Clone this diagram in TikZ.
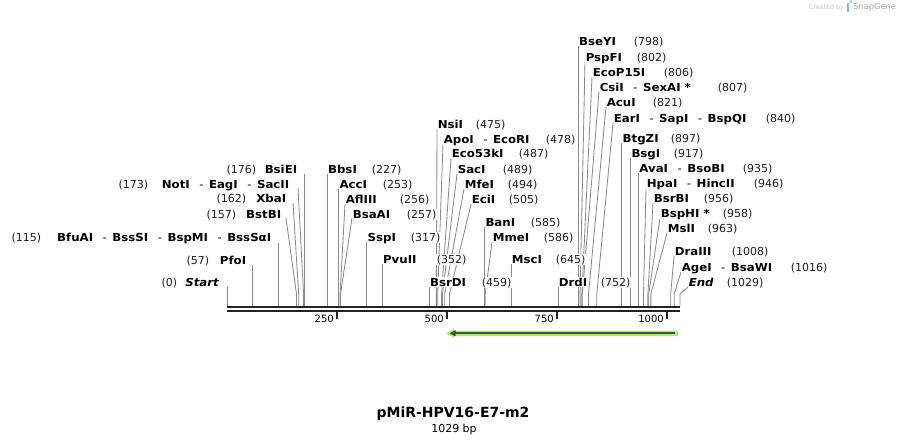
\documentclass[tikz,border=0pt]{standalone}
\usepackage{fontspec}
\setmainfont{DejaVu Sans}
\newfontfamily\enzfont[FakeStretch=1.07]{DejaVu Sans}
\pgfdeclarelayer{lines}
\pgfsetlayers{lines,main}
\definecolor{cutgray}{RGB}{138,138,138}
\definecolor{bardark}{RGB}{34,34,34}
\definecolor{halo}{RGB}{170,238,120}
\definecolor{featdark}{RGB}{62,82,52}
\definecolor{numcol}{RGB}{30,30,30}
\definecolor{logogray}{RGB}{165,165,165}
\definecolor{logolight}{RGB}{195,195,195}
\definecolor{logoblue}{RGB}{110,190,235}
\tikzset{
  cutline/.style={draw=cutgray, line width=0.85pt},
  namelab/.style={font=\fontsize{11}{13}\enzfont\bfseries, fill=white, inner sep=0.6pt, text=black},
  numlab/.style={font=\fontsize{11}{13}\selectfont, fill=white, inner sep=0.6pt, text=numcol},
  ticklab/.style={font=\fontsize{10}{12}\selectfont, inner sep=0pt, anchor=east, text=black},
  barline/.style={draw=bardark, line width=2.5pt},
  tickmark/.style={draw=bardark, line width=2pt},
}
\newcommand{\sepr}{\hspace{9.5pt}\textmd{-}\hspace{5.5pt}}
% right-side label: id, cut x, top x, top y, text centre y, name, number left x, number
\newcommand{\rsite}[8]{%
  \coordinate (#1-cut) at (#2,306);
  \coordinate (#1-knee) at (#2,294);
  \coordinate (#1-top) at (#3,#4);
  \begin{pgfonlayer}{lines}\draw[cutline] (#1-cut) -- (#1-knee) -- (#1-top);\end{pgfonlayer}
  \node[namelab, anchor=base west] (#1-name) at (#3,{#5+4}) {#6};
  \node[numlab, anchor=base west] (#1-num) at (#7,{#5+4}) {#8};
}
% left-side label: id, cut x, top x, top y, text centre y, name, name right x, number right x, number
\newcommand{\lsite}[9]{%
  \coordinate (#1-cut) at (#2,306);
  \coordinate (#1-knee) at (#2,294);
  \coordinate (#1-top) at (#3,#4);
  \begin{pgfonlayer}{lines}\draw[cutline] (#1-cut) -- (#1-knee) -- (#1-top);\end{pgfonlayer}
  \node[namelab, anchor=base east] (#1-name) at (#7,{#5+4}) {#6};
  \node[numlab, anchor=base east] (#1-num) at (#8,{#5+4}) {#9};
}
\begin{document}
\begin{tikzpicture}[x=1pt,y=-1pt]
\useasboundingbox (0,0) rectangle (908,445);

% left-side sites
\lsite{Start}{227.5}{227.5}{287}{282}{\textit{Start}}{220}{178}{(0)}
\lsite{PfoI}{252.6}{252.6}{265}{260}{PfoI}{247}{210}{(57)}
\lsite{BfuAI}{278.1}{278.1}{243}{237}{BfuAI\sepr BssSI\sepr BspMI\sepr BssSαI}{272}{42}{(115)}
\lsite{BstBI}{296.5}{286}{218}{214}{BstBI}{282}{237}{(157)}
\lsite{XbaI}{298.7}{293}{203}{198}{XbaI}{287}{247}{(162)}
\lsite{NotI}{303.6}{298}{188}{184}{NotI\sepr EagI\sepr SacII}{290}{149}{(173)}
\lsite{BsiEI}{304.9}{304.9}{174}{169}{BsiEI}{298}{257}{(176)}

% right-side sites
\rsite{BbsI}{327.3}{327.3}{174}{169}{BbsI}{371}{(227)}
\rsite{AccI}{338.7}{338.7}{189}{184}{AccI}{382}{(253)}
\rsite{AflIII}{340.1}{345}{204}{199}{AflIII}{399}{(256)}
\rsite{BsaAI}{340.5}{352}{218}{214}{BsaAI}{406}{(257)}
\rsite{SspI}{366.9}{366.9}{242}{237}{SspI}{410}{(317)}
\rsite{PvuII}{382.3}{382.3}{264}{259}{PvuII}{436}{(352)}
\rsite{BsrDI}{429.3}{429.3}{287}{282}{BsrDI}{481}{(459)}
\rsite{NsiI}{436.4}{437}{129}{124}{NsiI}{475}{(475)}
\rsite{ApoI}{437.7}{443}{144}{139}{ApoI\sepr EcoRI}{545}{(478)}
\rsite{EcoFTkI}{441.6}{451}{158}{153}{Eco53kI}{518}{(487)}
\rsite{SacI}{442.5}{457}{174}{169}{SacI}{502}{(489)}
\rsite{MfeI}{444.7}{464}{189}{184}{MfeI}{507}{(494)}
\rsite{EciI}{449.5}{471}{204}{199}{EciI}{508}{(505)}
\rsite{BanI}{484.7}{484.7}{227}{222}{BanI}{530}{(585)}
\rsite{MmeI}{485.2}{492}{242}{237}{MmeI}{543}{(586)}
\rsite{MscI}{511.1}{511.1}{264}{259}{MscI}{555}{(645)}
\rsite{DrdI}{558.1}{558.1}{287}{282}{DrdI}{600}{(752)}
\rsite{BseYI}{578.4}{578.4}{46}{41}{BseYI}{633}{(798)}
\rsite{PspFI}{580.1}{585}{62}{57}{PspFI}{636}{(802)}
\rsite{EcoPI}{581.9}{592}{77}{72}{EcoP15I}{663}{(806)}
\rsite{CsiI}{582.3}{599}{92}{87}{CsiI\sepr SexAI~*}{717}{(807)}
\rsite{AcuI}{588.5}{606}{107}{102}{AcuI}{652}{(821)}
\rsite{EarI}{596.8}{613}{123}{118}{EarI\sepr SapI\sepr BspQI}{765}{(840)}
\rsite{BtgZI}{621.9}{621.9}{143}{138}{BtgZI}{670}{(897)}
\rsite{BsgI}{630.7}{630.7}{158}{153}{BsgI}{673}{(917)}
\rsite{AvaI}{638.6}{638.6}{173}{168}{AvaI\sepr BsoBI}{742}{(935)}
\rsite{HpaI}{643.5}{646}{188}{183}{HpaI\sepr HincII}{753}{(946)}
\rsite{BsrBI}{647.9}{653}{203}{198}{BsrBI}{703}{(956)}
\rsite{BspHI}{648.7}{660}{218}{213}{BspHI~*}{722}{(958)}
\rsite{MslI}{650.9}{667}{233}{228}{MslI}{707}{(963)}
\rsite{DraIII}{670.7}{674}{256}{251}{DraIII}{731}{(1008)}
\rsite{AgeI}{674.2}{681}{272}{267}{AgeI\sepr BsaWI}{790}{(1016)}
\rsite{End}{680}{688}{287}{282}{\textit{End}}{726}{(1029)}

% sequence bar
\draw[barline] (227,307.2) -- (680,307.2);
\draw[barline] (227,311) -- (680,311);

% ticks
\draw[tickmark] (337.4,312) -- (337.4,319);
\draw[tickmark] (447.4,312) -- (447.4,319);
\draw[tickmark] (557.3,312) -- (557.3,319);
\draw[tickmark] (667.2,312) -- (667.2,319);
\node[ticklab] (t250) at (334,319) {250};
\node[ticklab] (t500) at (444,319) {500};
\node[ticklab] (t750) at (554,319) {750};
\node[ticklab] (t1000) at (664,319) {1000};

% feature arrow
\fill[halo] (446,333.3) -- (454,328.6) -- (454,330.6) -- (678,330.6) -- (678,336) -- (454,336) -- (454,338) -- cycle;
\draw[featdark, line width=2.2pt] (453,333.3) -- (675,333.3);
\fill[featdark] (449.5,333.3) -- (455.5,330.2) -- (455.5,336.4) -- cycle;

% title
\node[font=\fontsize{14}{16}\selectfont\bfseries, anchor=base, inner sep=0pt] (title) at (453,417) {pMiR-HPV16-E7-m2};
\node[font=\fontsize{11}{13}\selectfont, anchor=base, inner sep=0pt] (len) at (454,432) {1029 bp};

% logo
\node[font=\fontsize{6.3}{7}\selectfont, text=logolight, anchor=east, inner sep=0pt] (created) at (844,7.3) {Created by};
\fill[logoblue] (846.5,3.2) rectangle (848.6,11.8);
\fill[logoblue!60] (848.6,3.2) -- (850,3.2) arc[start angle=90, end angle=-90, radius=2.4] -- (848.6,8) -- cycle;
\node[font=\fontsize{8.3}{9}\selectfont, text=logogray, anchor=west, inner sep=0pt] (snap) at (853,7.3) {SnapGene};
\end{tikzpicture}
\end{document}
